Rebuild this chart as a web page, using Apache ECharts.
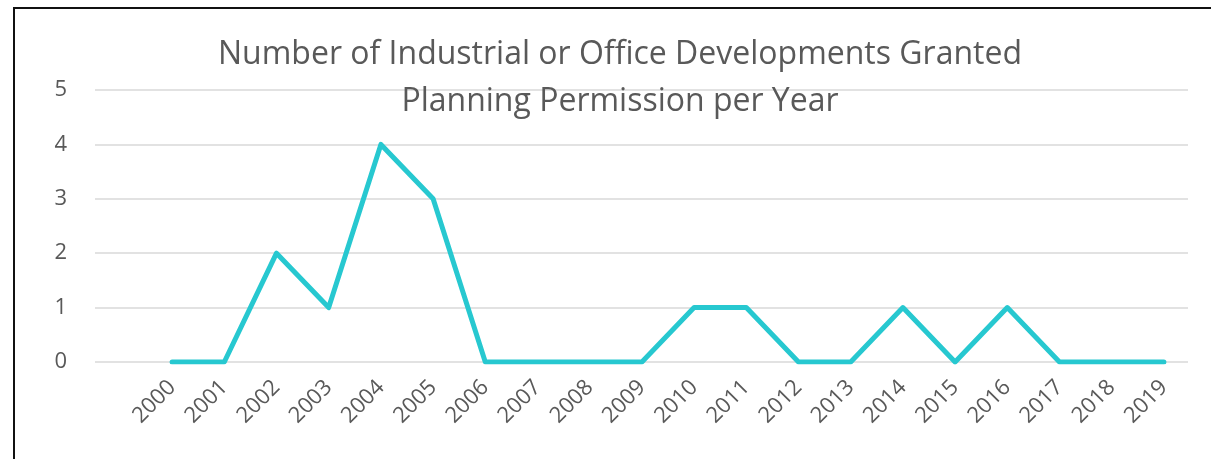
<!DOCTYPE html>
<html>
<head>
<meta charset="utf-8">
<script src="https://cdn.jsdelivr.net/npm/echarts@6/dist/echarts.min.js"></script>
<style>
  html, body { margin: 0; padding: 0; background: #fff; }
  #frame { position: absolute; left: 13px; top: 7px; width: 1300px; height: 600px; border: 2px solid #111; box-sizing: border-box; }
  #chart { position: absolute; left: 0; top: 0; width: 1211px; height: 459px; }
</style>
</head>
<body>
<div id="frame"></div>
<div id="chart"></div>
<script>
  var years = ["2000", "2001", "2002", "2003", "2004", "2005", "2006", "2007", "2008", "2009",
               "2010", "2011", "2012", "2013", "2014", "2015", "2016", "2017", "2018", "2019"];
  var developments = [0, 0, 2, 1, 4, 3, 0, 0, 0, 0, 1, 1, 0, 0, 1, 0, 1, 0, 0, 0];
  var titleText = "Number of Industrial or Office Developments Granted\nPlanning Permission per Year";

  var textColor = "#595959";
  var myChart = echarts.init(document.getElementById("chart"));
  var option = {
    animation: false,
    title: {
      text: titleText,
      left: 615,
      top: 26,
      textAlign: "center",
      textStyle: {
        fontFamily: "Open Sans",
        fontWeight: "normal",
        fontSize: 32,
        lineHeight: 47,
        color: textColor
      }
    },
    grid: [
      // gridlines + y labels across the full plot area
      { left: 95, right: 23, top: 90, bottom: 97 },
      // the line itself with the year categories
      { left: 146, right: 21, top: 90, bottom: 97 }
    ],
    xAxis: [
      { gridIndex: 0, type: "value", show: false, min: 0, max: 1 },
      {
        gridIndex: 1,
        type: "category",
        data: years,
        boundaryGap: true,
        axisLine: { show: false },
        axisTick: { show: false },
        axisLabel: {
          rotate: 45,
          margin: 22,
          interval: 0,
          color: textColor,
          fontFamily: "Open Sans",
          fontSize: 22
        }
      }
    ],
    yAxis: [
      {
        gridIndex: 0,
        type: "value",
        min: 0,
        max: 5,
        interval: 1,
        axisLine: { show: false },
        axisTick: { show: false },
        axisLabel: {
          margin: 28,
          color: textColor,
          fontFamily: "Open Sans",
          fontSize: 22
        },
        splitLine: { lineStyle: { color: "#d9d9d9", width: 1.5 } }
      },
      { gridIndex: 1, type: "value", min: 0, max: 5, show: false }
    ],
    series: [
      {
        name: "Developments",
        type: "line",
        xAxisIndex: 1,
        yAxisIndex: 1,
        data: developments,
        symbol: "none",
        lineStyle: { color: "#27C8D0", width: 5, cap: "round", join: "round" }
      }
    ]
  };
  myChart.setOption(option);
</script>
</body>
</html>
